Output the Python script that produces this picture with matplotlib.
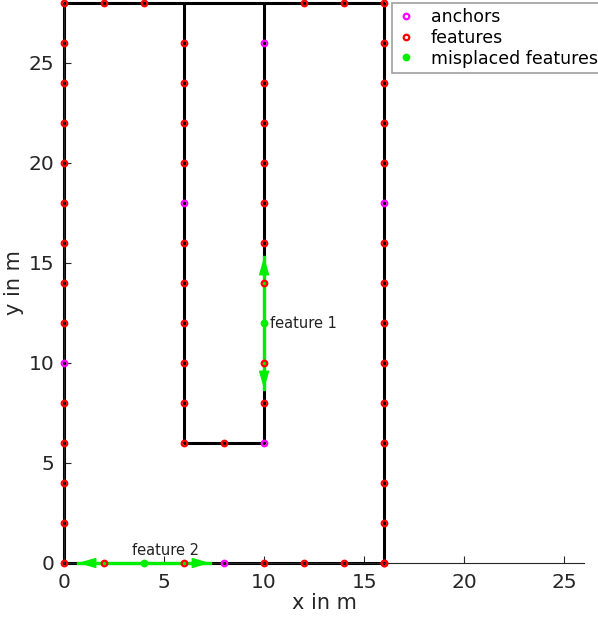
import matplotlib.pyplot as plt
import numpy as np

# walls of the corridor (outer rectangle + inner U)
wall_x = [0, 16, 16, 0, 0]
wall_y = [0, 0, 28, 28, 0]
inner_x = [6, 6, 10, 10]
inner_y = [28, 6, 6, 28]

# features (red)
feat_x = [0, 0, 0, 0, 0, 0, 0, 0, 0, 0, 0, 0, 0, 0,
          2, 4, 12, 14, 16,
          2, 6, 10, 12, 14, 16,
          16, 16, 16, 16, 16, 16, 16, 16, 16, 16, 16, 16, 16,
          6, 6, 6, 6, 6, 6, 6, 6, 6, 6, 8,
          10, 10, 10, 10, 10, 10, 10, 10]
feat_y = [0, 2, 4, 6, 8, 12, 14, 16, 18, 20, 22, 24, 26, 28,
          28, 28, 28, 28, 28,
          0, 0, 0, 0, 0, 0,
          2, 4, 6, 8, 10, 12, 14, 16, 20, 22, 24, 26, 0,
          6, 8, 10, 12, 14, 16, 20, 22, 24, 26, 6,
          8, 10, 14, 16, 18, 20, 22, 24]

# anchors (magenta)
anchor_x = [0, 8, 6, 10, 10, 16]
anchor_y = [10, 0, 18, 6, 26, 18]

# misplaced features (green) and their uncertainty
mis_x = [10, 4]
mis_y = [12, 0]
mis_dx = [0, 3.3]
mis_dy = [3.3, 0]

fig = plt.figure(figsize=(5.98, 6.25), dpi=100)
ax = fig.add_axes([0.107, 0.0992, 0.87, 0.896])

ax.plot(wall_x, wall_y, color='k', lw=2.2, zorder=2, clip_on=False)
ax.plot(inner_x, inner_y, color='k', lw=2.2, zorder=2, clip_on=False)

# uncertainty arrows
for mx, my, dx, dy in zip(mis_x, mis_y, mis_dx, mis_dy):
    for s in (1, -1):
        ax.plot([mx, mx + s * dx], [my, my + s * dy], color='#00ee00', lw=2.4, zorder=3,
                clip_on=False)
        ax.annotate('', xy=(mx + s * dx, my + s * dy), xytext=(mx + s * dx * 0.6, my + s * dy * 0.6),
                    arrowprops=dict(arrowstyle='-|>,head_length=0.55,head_width=0.16',
                                    color='#00ee00', lw=1,
                                    mutation_scale=20, shrinkA=0, shrinkB=0),
                    zorder=3, annotation_clip=False)

ax.plot(anchor_x, anchor_y, 'o', ms=4, mfc='none', mec='#ff00ff', mew=1.6,
        ls='none', label='anchors', zorder=4, clip_on=False)
ax.plot(feat_x, feat_y, 'o', ms=4, mfc='none', mec='#ff0000', mew=1.6,
        ls='none', label='features', zorder=4, clip_on=False)
ax.plot(mis_x, mis_y, 'o', ms=4, mfc='#00ee00', mec='#00ee00', mew=1.6,
        ls='none', label='misplaced features', zorder=4, clip_on=False)

ax.text(10.3, 12, 'feature 1', fontsize=10.5, va='center', ha='left', color='#222222')
ax.text(5.05, 0.25, 'feature 2', fontsize=10.5, va='bottom', ha='center', color='#222222')

ax.set_xlim(0, 26)
ax.set_ylim(0, 28)
ax.set_xticks([0, 5, 10, 15, 20, 25])
ax.set_yticks([0, 5, 10, 15, 20, 25])
ax.set_xlabel('x in m', fontsize=15, color='#262626', labelpad=1)
ax.set_ylabel('y in m', fontsize=15, color='#262626', labelpad=3)
ax.tick_params(direction='in', labelsize=14.5, colors='#262626', length=5, pad=7)
ax.spines['top'].set_visible(False)
ax.spines['right'].set_visible(False)
for sp in ('left', 'bottom'):
    ax.spines[sp].set_color('#262626')
    ax.spines[sp].set_linewidth(0.8)

leg = ax.legend(loc='upper right', bbox_to_anchor=(1.008, 0.995), bbox_transform=fig.transFigure,
                fontsize=12.5, frameon=True, fancybox=False, handlelength=1.0,
                borderpad=0.3, labelspacing=0.15, handletextpad=0.9, borderaxespad=0.0)
leg.get_frame().set_edgecolor('#888888')
leg.get_frame().set_linewidth(1.2)

fig.savefig('out.png', dpi=100)
